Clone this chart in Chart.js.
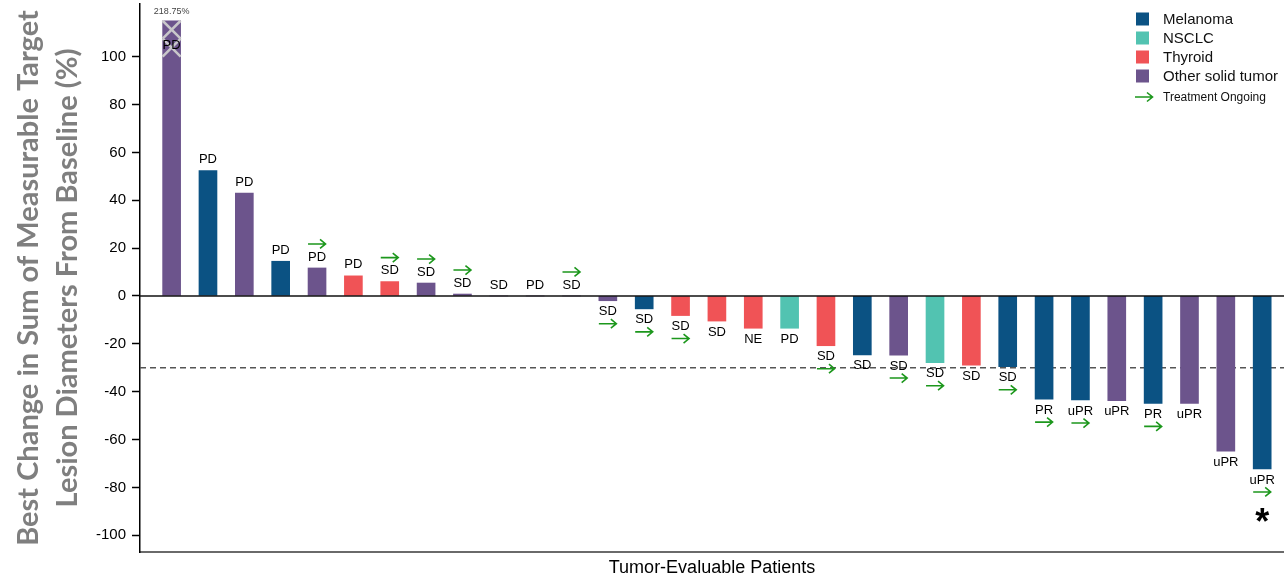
<!DOCTYPE html>
<html>
<head>
<meta charset="utf-8">
<script src="https://cdn.jsdelivr.net/npm/chart.js@4.4.1/dist/chart.umd.min.js"></script>
<style>
  html, body { margin: 0; padding: 0; background: #fff; }
  #wrap { width: 1284px; height: 579px; position: relative; }
</style>
</head>
<body>
<div id="wrap"><canvas id="waterfall"></canvas></div>
<script>
// one entry per tumor-evaluable patient, sorted by best change
const patients = [1, 2, 3, 4, 5, 6, 7, 8, 9, 10, 11, 12, 13, 14, 15, 16,
  17, 18, 19, 20, 21, 22, 23, 24, 25, 26, 27, 28, 29, 30, 31];

const changes = [218.75, 52.4, 43, 14.5, 11.7, 8.4, 6, 5.4, 0.8, 0, 0, 0,
  -2, -5.4, -8.2, -10.5, -13.5, -13.5, -20.8, -24.6, -24.7, -27.9, -28.9, -29.6,
  -43.1, -43.5, -43.8, -44.9, -44.9, -64.9, -72.3];

const tumorTypes = ['Other', 'Melanoma', 'Other', 'Melanoma', 'Other', 'Thyroid',
  'Thyroid', 'Other', 'Other', 'Other', 'Other', 'Other', 'Other', 'Melanoma',
  'Thyroid', 'Thyroid', 'Thyroid', 'NSCLC', 'Thyroid', 'Melanoma', 'Other', 'NSCLC',
  'Thyroid', 'Melanoma', 'Melanoma', 'Melanoma', 'Other', 'Melanoma', 'Other',
  'Other', 'Melanoma'];

const responses = ['PD', 'PD', 'PD', 'PD', 'PD', 'PD', 'SD', 'SD', 'SD', 'SD',
  'PD', 'SD', 'SD', 'SD', 'SD', 'SD', 'NE', 'PD', 'SD', 'SD', 'SD', 'SD', 'SD',
  'SD', 'PR', 'uPR', 'uPR', 'PR', 'uPR', 'uPR', 'uPR'];

const ongoing = [0, 0, 0, 0, 1, 0, 1, 1, 1, 0, 0, 1, 1, 1, 1, 0, 0, 0, 1, 0,
  1, 1, 0, 1, 1, 1, 0, 1, 0, 0, 1];

const starred = [30];          // index of patient marked with *
const yTicks = [-100, -80, -60, -40, -20, 0, 20, 40, 60, 80, 100];
const yCap = 115;              // bars above this are cut off
const breakFrom = 100;
const prThreshold = -30;

const legendNames = ['Melanoma', 'NSCLC', 'Thyroid', 'Other solid tumor'];
const legendKeys = ['Melanoma', 'NSCLC', 'Thyroid', 'Other'];

const typeColors = {
  Melanoma: '#0b5283',
  NSCLC: '#52c3b1',
  Thyroid: '#f05356',
  Other: '#6c548c'
};
const arrowColor = '#1c971c';
const labelFont = '13px "Liberation Sans", Arial, sans-serif';

function drawArrow(c, x, y) {
  c.save();
  c.strokeStyle = arrowColor;
  c.lineWidth = 1.6;
  c.beginPath();
  c.moveTo(x - 9, y);
  c.lineTo(x + 8, y);
  c.moveTo(x + 3, y - 4.5);
  c.lineTo(x + 8.5, y);
  c.lineTo(x + 3, y + 4.5);
  c.stroke();
  c.restore();
}

const refLines = {
  id: 'refLines',
  beforeDatasetsDraw(chart) {
    const { ctx: c, chartArea: a, scales: { y } } = chart;
    const yy = y.getPixelForValue(prThreshold);
    c.save();
    c.strokeStyle = '#555';
    c.lineWidth = 1.3;
    c.setLineDash([6, 4]);
    c.beginPath();
    c.moveTo(a.left, yy);
    c.lineTo(a.right, yy);
    c.stroke();
    c.restore();
  },
  afterDatasetsDraw(chart) {
    const { ctx: c, chartArea: a, scales: { y } } = chart;
    const meta = chart.getDatasetMeta(0);
    const y0 = y.getPixelForValue(0);

    c.save();
    c.strokeStyle = '#111';
    c.lineWidth = 1.5;
    c.beginPath();
    c.moveTo(a.left, y0);
    c.lineTo(a.right, y0);
    c.stroke();

    c.font = labelFont;
    c.textAlign = 'center';
    c.textBaseline = 'middle';

    meta.data.forEach((bar, i) => {
      const v = changes[i];
      if (v > yCap) {
        // broken bar: cross hatch on top, true value above
        const yTop = y.getPixelForValue(yCap);
        const yBrk = y.getPixelForValue(breakFrom);
        const half = 9;
        const mid = (yTop + yBrk) / 2;
        c.save();
        c.strokeStyle = 'rgba(205,205,205,0.95)';
        c.lineWidth = 2.5;
        c.beginPath();
        c.moveTo(bar.x - half, yTop); c.lineTo(bar.x + half, mid);
        c.moveTo(bar.x + half, yTop); c.lineTo(bar.x - half, mid);
        c.moveTo(bar.x - half, mid); c.lineTo(bar.x + half, yBrk);
        c.moveTo(bar.x + half, mid); c.lineTo(bar.x - half, yBrk);
        c.stroke();
        c.fillStyle = '#444';
        c.font = '9px "Liberation Sans", Arial, sans-serif';
        c.fillText(v.toFixed(2) + '%', bar.x, yTop - 9);
        c.restore();
        c.fillStyle = '#000';
        c.fillText(responses[i], bar.x, yTop + 25);
        return;
      }
      c.fillStyle = '#000';
      if (v >= 0) {
        c.fillText(responses[i], bar.x, bar.y - 11);
        if (ongoing[i]) drawArrow(c, bar.x, bar.y - 24);
      } else {
        c.fillText(responses[i], bar.x, bar.y + 11);
        if (ongoing[i]) drawArrow(c, bar.x, bar.y + 23);
      }
      if (starred.includes(i)) {
        c.save();
        c.font = 'bold 36px "Liberation Sans", Arial, sans-serif';
        c.textBaseline = 'alphabetic';
        c.fillText('*', bar.x, bar.y + 65);
        c.restore();
      }
    });

    // legend
    const lx = 1136, ly = [19, 38, 57, 76];
    c.textAlign = 'left';
    c.font = '15px "Liberation Sans", Arial, sans-serif';
    legendKeys.forEach((k, i) => {
      c.fillStyle = typeColors[k];
      c.fillRect(lx, ly[i] - 6.5, 13, 13);
      c.fillStyle = '#111';
      c.fillText(legendNames[i], lx + 27, ly[i] + 0.5);
    });
    drawArrow(c, lx + 8, 97);
    c.fillStyle = '#111';
    c.font = '12px "Liberation Sans", Arial, sans-serif';
    c.fillText('Treatment Ongoing', lx + 27, 97.5);
    c.restore();
  }
};

new Chart(document.getElementById('waterfall'), {
  type: 'bar',
  data: {
    datasets: [{
      data: patients.map((p, i) => ({ x: p, y: Math.min(changes[i], yCap) })),
      backgroundColor: tumorTypes.map(t => typeColors[t]),
      barThickness: 18,
      borderWidth: 0
    }]
  },
  options: {
    responsive: true,
    maintainAspectRatio: false,
    animation: false,
    layout: { padding: { top: 4, right: 0, left: 0, bottom: 0 } },
    plugins: {
      legend: { display: false },
      tooltip: { enabled: false }
    },
    scales: {
      x: {
        type: 'linear',
        offset: false,
        min: 0.13,
        max: 31.6,
        grid: { display: false },
        ticks: { display: false },
        border: { color: '#6a6a6a', width: 2 },
        title: {
          display: true,
          text: 'Tumor-Evaluable Patients',
          color: '#000',
          font: { family: '"Liberation Sans", Arial, sans-serif', size: 18 },
          padding: { top: 3, bottom: 0 }
        },
        afterFit: s => { s.height = 27; s.paddingLeft = 0; s.paddingRight = 0; }
      },
      y: {
        min: -107,
        max: 122,
        afterBuildTicks: s => { s.ticks = yTicks.map(v => ({ value: v })); },
        grid: { drawOnChartArea: false, tickLength: 8, tickColor: '#000', tickWidth: 1.5 },
        border: { color: '#000', width: 1.5 },
        ticks: {
          color: '#000',
          padding: 6,
          font: { family: '"Liberation Sans", Arial, sans-serif', size: 15 }
        },
        title: {
          display: true,
          text: ['Best Change in Sum of Measurable Target', 'Lesion Diameters From Baseline (%)'],
          color: '#7f7f7f',
          font: { family: 'Lato, "Open Sans", sans-serif', size: 29, weight: 'bold', lineHeight: 1.32 },
          padding: { top: 10, bottom: 0 }
        },
        afterFit: s => { s.width = 140; s.paddingTop = 0; s.paddingBottom = 0; }
      }
    }
  },
  plugins: [refLines]
});
</script>
</body>
</html>
